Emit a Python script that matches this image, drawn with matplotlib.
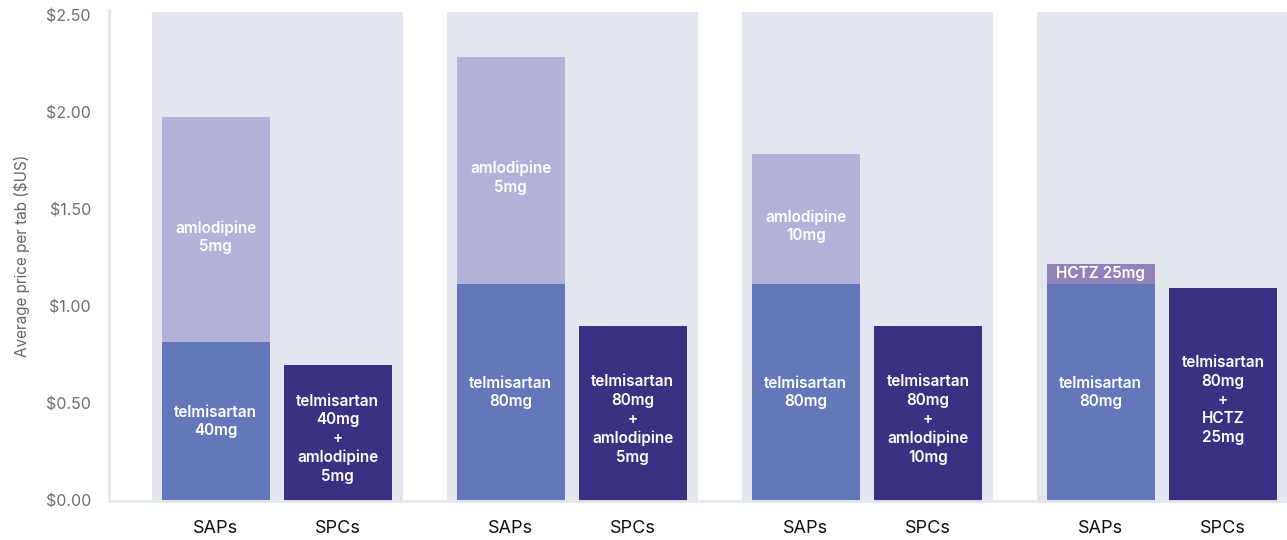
import numpy as np
import matplotlib
matplotlib.use("Agg")
import matplotlib.pyplot as plt

# ----------------------------
# DATA (average price per tab, $US)
# ----------------------------
groups = ["telmisartan 40mg + amlodipine 5mg",
          "telmisartan 80mg + amlodipine 5mg",
          "telmisartan 80mg + amlodipine 10mg",
          "telmisartan 80mg + HCTZ 25mg"]
sap_base = [0.82, 1.12, 1.12, 1.12]          # telmisartan single pill
sap_top = [1.16, 1.17, 0.67, 0.10]           # second drug single pill
spc_values = [0.70, 0.90, 0.90, 1.10]        # single pill combination
base_labels = ["telmisartan\n40mg", "telmisartan\n80mg",
               "telmisartan\n80mg", "telmisartan\n80mg"]
top_labels = ["amlodipine\n5mg", "amlodipine\n5mg", "amlodipine\n10mg", "HCTZ 25mg"]
spc_labels = ["telmisartan\n40mg\n+\namlodipine\n5mg",
              "telmisartan\n80mg\n+\namlodipine\n5mg",
              "telmisartan\n80mg\n+\namlodipine\n10mg",
              "telmisartan\n80mg\n+\nHCTZ\n25mg"]
yticks = [0, 0.5, 1.0, 1.5, 2.0, 2.5]

# ----------------------------
# STYLE
# ----------------------------
plt.rcParams['font.family'] = ['Inter', 'DejaVu Sans']
c_panel = "#e3e6ef"
c_spine = "#e4e6ee"
c_base = "#6477bb"
c_amlo = "#b2b2d9"
c_hctz = "#9183b7"
c_spc = "#3a3183"

fig = plt.figure(figsize=(12.87, 5.40), dpi=100)
ax = fig.add_axes([109 / 1287, 1 - 501 / 540, 1 - 109 / 1287, 491 / 540])

x = np.arange(len(groups))
w = 0.366
off = 0.207
ymax = 2.53

# background panels
ax.bar(x + 0.002, 2.52, width=0.851, color=c_panel, zorder=0)

top_colors = [c_amlo, c_amlo, c_amlo, c_hctz]
ax.bar(x - off, sap_base, width=w, color=c_base, zorder=2)
ax.bar(x - off, sap_top, bottom=sap_base, width=w, color=top_colors, zorder=2)
ax.bar(x + off, spc_values, width=w, color=c_spc, zorder=2)

txt = dict(color="white", fontsize=11, fontweight="semibold", ha="center",
           va="center", linespacing=1.3, zorder=3)
for i in range(len(groups)):
    ax.text(x[i] - off, sap_base[i] / 2, base_labels[i], **txt)
    shift = 0.04 if sap_top[i] > 0.3 else 0
    ax.text(x[i] - off, sap_base[i] + sap_top[i] / 2 - shift, top_labels[i], **txt)
    ax.text(x[i] + off, spc_values[i] / 2 - 0.03, spc_labels[i], **txt)

ax.set_xlim(-0.568, 3.424)
ax.set_ylim(0, ymax)

ax.set_xticks(np.concatenate([x - off, x + off]))
ax.set_xticklabels(["SAPs"] * 4 + ["SPCs"] * 4)
ax.tick_params(axis="x", length=0, pad=14, labelsize=13, labelcolor="#111111")
ax.set_yticks(yticks)
ax.set_yticklabels([f"${v:.2f}" for v in yticks])
ax.tick_params(axis="y", length=0, pad=13, labelsize=11.5, labelcolor="#6e6e6e")

ax.set_ylabel("Average price per tab ($US)", fontsize=11, color="#666666", labelpad=11)

for s in ["top", "right"]:
    ax.spines[s].set_visible(False)
for s in ["left", "bottom"]:
    ax.spines[s].set_color(c_spine)
    ax.spines[s].set_linewidth(2)

fig.savefig("out.png", dpi=100)
